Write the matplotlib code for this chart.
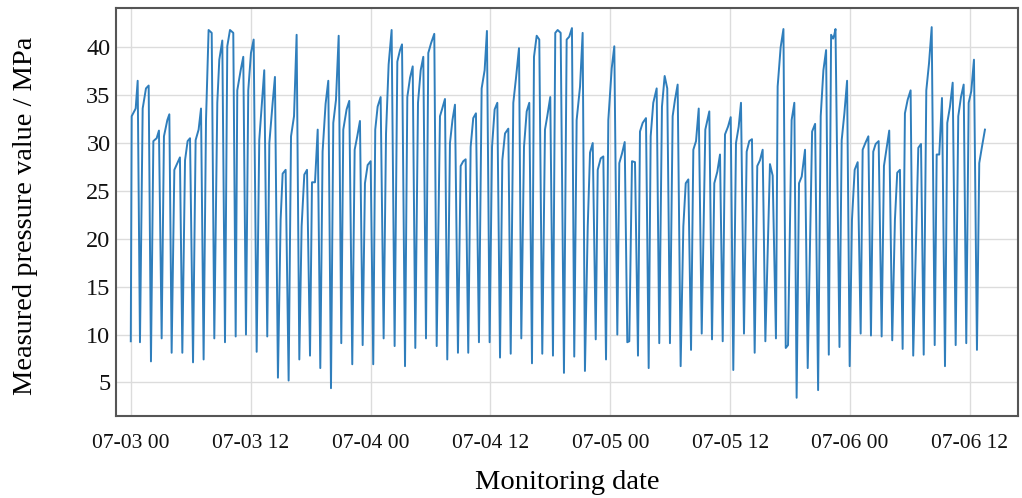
import matplotlib
matplotlib.use("Agg")
import matplotlib.pyplot as plt
import matplotlib.dates as mdates
import numpy as np
import pandas as pd

# Hours elapsed since 07-03 00:00 and the measured pressure (MPa) at each reading
hours = [
    0.00, 0.09, 0.49, 0.69, 0.92, 1.19, 1.52, 1.79, 2.02, 2.26, 2.59, 2.82,
    3.09, 3.32, 3.66, 3.86, 4.09, 4.36, 4.66, 4.92, 5.16, 5.43, 5.69, 5.93,
    6.23, 6.49, 6.79, 7.03, 7.29, 7.53, 7.79, 8.10, 8.36, 8.66, 8.86, 9.16,
    9.43, 9.66, 9.93, 10.26, 10.50, 10.66, 11.00, 11.26, 11.53, 11.76, 12.03, 12.30,
    12.60, 12.86, 13.13, 13.36, 13.66, 13.87, 14.20, 14.43, 14.73, 15.00, 15.20, 15.50,
    15.80, 16.04, 16.34, 16.60, 16.87, 17.10, 17.37, 17.64, 17.94, 18.14, 18.44, 18.71,
    18.97, 19.20, 19.50, 19.77, 20.04, 20.27, 20.54, 20.81, 21.07, 21.27, 21.60, 21.87,
    22.17, 22.41, 22.67, 22.94, 23.21, 23.44, 23.71, 24.01, 24.27, 24.47, 24.71, 25.01,
    25.31, 25.55, 25.81, 26.11, 26.41, 26.68, 26.95, 27.15, 27.45, 27.68, 27.95, 28.22,
    28.48, 28.75, 29.02, 29.28, 29.55, 29.78, 30.05, 30.38, 30.62, 30.95, 31.15, 31.45,
    31.68, 31.95, 32.20, 32.45, 32.75, 33.02, 33.28, 33.52, 33.78, 34.02, 34.28, 34.55,
    34.85, 35.12, 35.42, 35.65, 35.92, 36.16, 36.42, 36.69, 36.96, 37.19, 37.46, 37.79,
    38.03, 38.29, 38.56, 38.86, 39.09, 39.36, 39.63, 39.89, 40.16, 40.36, 40.63, 40.89,
    41.19, 41.46, 41.69, 41.99, 42.26, 42.49, 42.73, 43.03, 43.36, 43.63, 43.89, 44.16,
    44.39, 44.63, 44.97, 45.23, 45.46, 45.74, 45.97, 46.24, 46.54, 46.74, 47.04, 47.30,
    47.57, 47.80, 48.14, 48.40, 48.70, 48.90, 49.17, 49.44, 49.70, 49.90, 50.17, 50.47,
    50.77, 50.97, 51.24, 51.57, 51.84, 52.04, 52.30, 52.64, 52.90, 53.17, 53.44, 53.70,
    53.97, 54.24, 54.47, 54.74, 55.04, 55.31, 55.55, 55.81, 56.08, 56.31, 56.58, 56.85,
    57.15, 57.51, 57.91, 58.18, 58.41, 58.71, 58.98, 59.25, 59.48, 59.78, 60.05, 60.31,
    60.58, 60.85, 61.08, 61.38, 61.65, 61.91, 62.18, 62.45, 62.71, 62.98, 63.25, 63.52,
    63.98, 64.25, 64.58, 64.75, 65.05, 65.33, 65.56, 65.79, 66.15, 66.42, 66.65, 66.89,
    67.16, 67.49, 67.76, 68.20, 68.50, 68.80, 69.06, 69.33, 69.60, 69.87, 70.10, 70.30,
    70.42, 70.54, 70.94, 71.16, 71.43, 71.70, 71.96, 72.19, 72.46, 72.76, 73.06, 73.26,
    73.53, 73.83, 74.09, 74.32, 74.56, 74.86, 75.16, 75.39, 75.66, 75.92, 76.22, 76.49,
    76.72, 76.99, 77.26, 77.49, 77.76, 78.06, 78.32, 78.83, 79.10, 79.37, 79.63, 79.90,
    80.17, 80.47, 80.67, 80.93, 81.20, 81.50, 81.73, 82.00, 82.27, 82.57, 82.83, 83.10,
    83.37, 83.63, 83.87, 84.13, 84.40, 84.70, 84.93, 85.20, 85.50,
]

pressure = [
    9.3, 32.8, 33.6, 36.5, 9.2, 33.6, 35.7, 36.0, 7.2, 30.2, 30.5, 31.3,
    9.6, 30.7, 32.4, 33.0, 8.1, 27.2, 27.9, 28.5, 8.1, 28.2, 30.2, 30.5,
    7.1, 30.3, 31.4, 33.6, 7.4, 32.4, 41.8, 41.5, 9.6, 34.2, 38.7, 40.7,
    9.2, 40.1, 41.8, 41.5, 9.8, 35.5, 37.6, 39.0, 10.0, 35.5, 39.4, 40.8,
    8.2, 30.3, 34.2, 37.6, 9.8, 30.0, 34.2, 36.9, 5.5, 22.0, 26.8, 27.2,
    5.2, 30.7, 32.8, 41.3, 7.4, 21.3, 26.7, 27.2, 7.8, 25.9, 25.9, 31.4,
    6.5, 29.1, 34.1, 36.5, 4.4, 32.1, 34.5, 41.2, 9.1, 31.4, 33.5, 34.4,
    6.9, 29.3, 30.7, 32.3, 8.9, 25.8, 27.7, 28.1, 6.9, 31.4, 33.8, 34.8,
    9.6, 31.0, 38.2, 41.8, 8.8, 38.5, 39.7, 40.3, 6.7, 34.8, 36.8, 38.0,
    8.6, 34.2, 37.6, 39.0, 9.6, 39.4, 40.4, 41.4, 8.8, 32.8, 33.5, 34.6,
    7.4, 30.0, 32.4, 34.0, 8.1, 27.6, 28.1, 28.3, 8.1, 29.6, 32.6, 33.1,
    9.2, 35.7, 37.6, 41.7, 9.2, 29.6, 33.5, 34.2, 7.6, 28.2, 31.0, 31.5,
    8.0, 34.2, 36.8, 39.9, 9.6, 29.6, 33.3, 34.2, 7.0, 39.0, 41.2, 40.8,
    8.0, 31.4, 32.8, 34.8, 7.8, 41.5, 41.8, 41.5, 6.0, 40.8, 41.1, 42.0,
    7.7, 32.4, 35.9, 41.5, 6.2, 21.3, 29.0, 30.0, 9.5, 27.2, 28.4, 28.6,
    7.4, 32.4, 37.8, 40.1, 10.0, 27.9, 28.9, 30.1, 9.2, 9.3, 28.1, 28.0,
    7.8, 31.2, 32.1, 32.6, 6.5, 30.7, 34.2, 35.7, 9.1, 33.8, 37.0, 35.7,
    9.1, 32.8, 34.5, 36.1, 6.7, 21.3, 25.8, 26.2, 8.4, 29.3, 30.2, 33.6,
    10.1, 31.4, 33.3, 9.5, 25.8, 27.0, 28.8, 9.3, 30.9, 31.7, 32.7, 6.3,
    30.0, 31.7, 34.2, 10.1, 29.1, 30.2, 30.4, 8.1, 27.6, 28.2, 29.3, 9.3,
    27.8, 26.6, 9.6, 35.9, 40.0, 41.9, 8.6, 8.9, 32.4, 34.2, 3.4, 25.8,
    26.5, 29.3, 6.5, 31.2, 32.0, 4.2, 32.8, 37.6, 39.7, 7.9, 41.3, 40.9,
    41.3, 41.9, 8.7, 30.3, 33.1, 36.5, 6.7, 22.0, 27.2, 28.0, 10.1, 29.3,
    30.0, 30.7, 9.9, 29.1, 29.9, 30.2, 9.8, 27.6, 29.5, 31.3, 9.4, 22.0,
    26.9, 27.2, 8.5, 33.1, 34.5, 35.5, 7.8, 29.5, 29.9, 7.9, 35.5, 38.3,
    42.1, 8.9, 28.8, 28.8, 34.7, 6.7, 32.1, 33.8, 36.3, 8.9, 32.8, 34.8,
    36.1, 9.1, 34.2, 35.4, 38.7, 8.4, 27.9, 29.6, 31.4,
]

start = pd.Timestamp("2023-07-03 00:00")
times = start + pd.to_timedelta(np.asarray(hours), unit="h")

plt.rcParams["font.family"] = ["Liberation Serif", "DejaVu Serif"]

fig = plt.figure(figsize=(10.22, 4.98), dpi=100)
ax = fig.add_axes([0.1135, 0.1647, 0.8825, 0.8193])

ax.plot(times, pressure, color="#2f7ebc", linewidth=1.4)

ax.set_xlim(start - pd.Timedelta(hours=1.48), start + pd.Timedelta(hours=88.8))
ax.set_ylim(1.5, 44.1)
ax.set_yticks([5, 10, 15, 20, 25, 30, 35, 40])

ax.xaxis.set_major_locator(mdates.HourLocator(byhour=[0, 12]))
ax.xaxis.set_major_formatter(mdates.DateFormatter("%m-%d %H"))

ax.grid(True, color="#dcdcdc", linewidth=1.0)
ax.set_axisbelow(True)
for side in ax.spines.values():
    side.set_color("#555555")
    side.set_linewidth(1.5)

ax.tick_params(axis="both", length=0, colors="#111111")
ax.tick_params(axis="x", labelsize=15.5, pad=13)
ax.tick_params(axis="y", labelsize=17.5, pad=4)

ax.set_xlabel("Monitoring date", fontsize=20.5, labelpad=12)
ax.set_ylabel("Measured pressure value / MPa", fontsize=20.5)
ax.yaxis.set_label_coords(-0.086, 0.49)

fig.savefig("out.png", dpi=100)
